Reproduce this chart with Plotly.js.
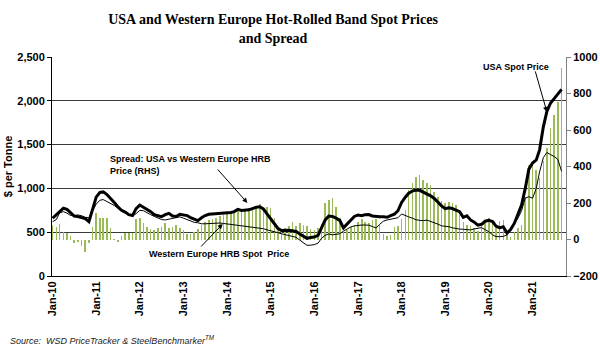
<!DOCTYPE html>
<html>
<head>
<meta charset="utf-8">
<script src="https://cdn.plot.ly/plotly-3.0.1.min.js"></script>
<style>html,body{margin:0;padding:0;background:#fff;}#chart{width:600px;height:358px;}</style>
</head>
<body>
<div id="chart"></div>
<script>
// Monthly data, Jan 2010 - Sep 2021
const startYear = 2010;
const usaPrice = [
660,700,745,775,760,720,685,678,670,655,620,760,
900,955,960,930,890,840,790,750,730,700,690,770,
810,785,765,735,700,690,678,700,715,685,680,705,
700,690,665,645,632,665,690,705,708,712,716,718,
722,725,735,760,748,750,755,770,785,790,765,710,
650,590,545,520,525,522,517,508,480,455,430,440,
445,465,550,640,685,680,660,635,550,590,640,680,
697,688,700,702,685,678,677,675,670,688,705,745,
840,900,945,970,982,978,960,940,915,885,835,800,
768,778,770,752,734,670,688,640,615,580,590,625,
635,622,570,550,563,490,530,600,710,811,1000,1220,
1290,1325,1440,1700,1880,1975,2025,2080,2130
];
const wePrice = [
620,645,720,735,718,690,690,697,688,670,665,740,
820,865,872,850,830,805,773,740,722,700,685,712,
750,745,720,700,680,662,645,640,648,655,662,675,
660,645,625,612,608,596,596,600,605,609,605,600,
595,590,585,578,571,567,563,560,555,550,540,527,
518,508,495,482,472,467,455,442,410,380,350,352,
358,375,430,465,480,470,472,482,512,540,560,572,
580,582,582,580,565,548,590,625,640,647,655,665,
708,695,675,660,642,635,632,638,625,610,592,572,
568,563,550,540,536,533,530,526,538,547,552,530,
505,470,450,449,452,470,530,595,660,745,890,905,
888,1000,1190,1350,1410,1385,1365,1330,1195
];
const spread = [
79,70,83,43,34,19,-17,-12,-36,-67,-21,70,
143,116,116,116,61,1,-12,19,34,34,34,111,
116,89,70,56,52,61,70,89,61,70,79,61,
52,30,28,40,55,80,95,106,115,120,130,132,
140,145,148,161,158,165,170,178,185,197,172,179,
170,120,70,55,65,75,95,72,88,79,72,55,
52,61,80,198,216,225,179,120,43,52,70,80,
97,115,97,88,106,110,80,30,19,24,70,72,
115,161,271,311,344,353,326,307,298,262,234,210,
200,207,200,189,134,98,80,75,65,45,89,98,
116,98,75,100,107,25,16,43,62,80,235,406,
426,383,337,430,500,610,680,755,940
];
const tickYears = [2010,2011,2012,2013,2014,2015,2016,2017,2018,2019,2020,2021];
const tickLabels = ['Jan-10','Jan-11','Jan-12','Jan-13','Jan-14','Jan-15','Jan-16','Jan-17','Jan-18','Jan-19','Jan-20','Jan-21'];

const months = usaPrice.map((_, i) => {
  const y = startYear + Math.floor(i / 12);
  const m = (i % 12) + 1;
  return y + '-' + String(m).padStart(2, '0') + '-01';
});
const tickVals = tickYears.map(y => y + '-01-01');

const bold = {family: 'Liberation Sans, Arial, sans-serif', size: 11, color: '#000', weight: 'bold'};
const annFont = {family: 'Liberation Sans, Arial, sans-serif', size: 9, color: '#000', weight: 'bold'};

const traces = [
  {type: 'bar', x: months, y: spread, yaxis: 'y', marker: {color: '#9BBB59'}, width: 13 * 86400000, hoverinfo: 'skip'},
  {type: 'scatter', mode: 'lines', x: months, y: wePrice, yaxis: 'y2', line: {color: '#000', width: 1}},
  {type: 'scatter', mode: 'lines', x: months, y: usaPrice, yaxis: 'y2', line: {color: '#000', width: 3}}
];

const layout = {
  width: 600, height: 358,
  margin: {l: 52, r: 34, t: 57, b: 82},
  paper_bgcolor: '#fff', plot_bgcolor: '#fff',
  showlegend: false,
  bargap: 0,
  title: {
    text: 'USA and Western Europe Hot-Rolled Band Spot Prices<br>and Spread',
    font: {family: 'Liberation Serif, Times New Roman, serif', size: 14, color: '#000', weight: 'bold'},
    xref: 'container', x: 0.455, xanchor: 'center',
    yref: 'container', y: 0.932, yanchor: 'top'
  },
  xaxis: {
    type: 'date',
    range: ['2009-12-27', '2021-10-08'],
    tickvals: tickVals, ticktext: tickLabels,
    tickangle: -90, tickfont: bold,
    showgrid: false, zeroline: false,
    showline: true, linecolor: '#000', linewidth: 1,
    ticks: ''
  },
  yaxis: {
    side: 'right', range: [-200, 1000], dtick: 200, tickformat: 'd',
    showgrid: false, zeroline: false,
    showline: true, linecolor: '#808080', linewidth: 1,
    ticks: 'outside', ticklen: 4, tickcolor: '#808080',
    tickfont: bold
  },
  yaxis2: {
    overlaying: 'y', side: 'left', range: [0, 2500], dtick: 500, tickformat: ',d',
    showgrid: true, gridcolor: '#3a3a3a', gridwidth: 1,
    zeroline: false,
    showline: true, linecolor: '#000', linewidth: 1,
    ticks: 'outside', ticklen: 4, tickcolor: '#000',
    tickfont: bold,
    title: {text: '$ per Tonne', font: bold, standoff: 2}
  },
  annotations: [
    {xref: 'paper', yref: 'paper', x: 0.903, y: 0.954, text: 'USA Spot Price', showarrow: false, font: annFont, xanchor: 'center', yanchor: 'middle'},
    {xref: 'x', yref: 'y2', x: '2021-05-01', y: 1873, ax: -12, ay: -42, axref: 'pixel', ayref: 'pixel', text: '', showarrow: true, arrowhead: 2, arrowsize: 1, arrowwidth: 1, arrowcolor: '#000'},
    {xref: 'paper', yref: 'paper', x: 0.109, y: 0.505, text: 'Spread: USA vs Western Europe HRB<br>Price (RHS)', align: 'left', showarrow: false, font: annFont, xanchor: 'left', yanchor: 'middle'},
    {xref: 'x', yref: 'y2', x: '2014-06-20', y: 834, ax: -31, ay: -35, text: '', showarrow: true, arrowhead: 2, arrowsize: 1, arrowwidth: 1, arrowcolor: '#000'},
    {xref: 'paper', yref: 'paper', x: 0.185, y: 0.100, text: 'Western Europe HRB Spot  Price', showarrow: false, font: annFont, xanchor: 'left', yanchor: 'middle'},
    {xref: 'x', yref: 'y2', x: '2013-11-25', y: 594, ax: -23, ay: 24, text: '', showarrow: true, arrowhead: 2, arrowsize: 1, arrowwidth: 1, arrowcolor: '#000'},
    {xref: 'paper', yref: 'paper', x: -0.086, y: -0.292, text: 'Source:  WSD PriceTracker &amp; SteelBenchmarker<sup>TM</sup>', showarrow: false, xanchor: 'left', yanchor: 'middle', font: {family: 'Liberation Sans, Arial, sans-serif', size: 9, color: '#222', style: 'italic'}}
  ]
};

Plotly.newPlot('chart', traces, layout, {displayModeBar: false, staticPlot: true});
</script>
</body>
</html>
